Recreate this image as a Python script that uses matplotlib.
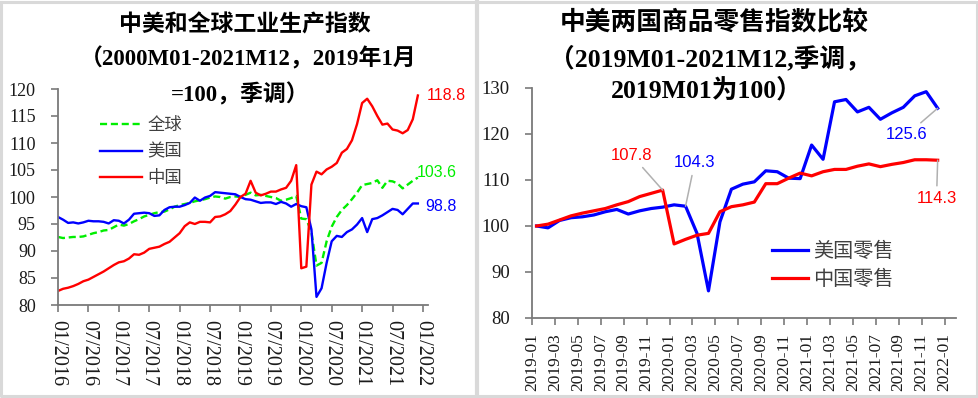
import matplotlib
matplotlib.use('Agg')
import numpy as np
import matplotlib.pyplot as plt
from matplotlib.lines import Line2D
from matplotlib.font_manager import FontProperties

# ---------------- data: left chart (monthly 2016-01 .. 2021-12, 2019M01 = 100) -------------
ip_tick_labels = ['01/2016', '07/2016', '01/2017', '07/2017', '01/2018', '07/2018',
                  '01/2019', '07/2019', '01/2020', '07/2020', '01/2021', '07/2021', '01/2022']
ip_world = [92.6, 92.4, 92.5, 92.6, 92.6, 92.7, 93.0, 93.3, 93.5, 93.8, 93.9, 94.4,
            94.9, 94.7, 95.0, 95.5, 95.9, 96.4, 96.7, 97.0, 97.2, 97.3, 97.7, 98.2,
            98.5, 98.7, 98.9, 99.2, 99.4, 99.6, 99.9, 100.1, 100.0, 99.7, 100.0, 100.1,
            100.0, 100.4, 100.8, 100.3, 100.4, 100.2, 100.0, 99.8, 99.3, 99.5, 99.8, 100.2,
            96.0, 95.9, 93.5, 87.3, 87.8, 91.8, 94.5, 96.3, 97.6, 98.5, 99.6, 100.8,
            102.2, 102.4, 102.6, 103.1, 101.7, 103.0, 102.9, 102.5, 101.6, 102.3, 103.0, 103.6]
ip_us = [96.3, 95.8, 95.2, 95.3, 95.1, 95.3, 95.6, 95.5, 95.5, 95.4, 95.1, 95.7,
         95.6, 95.1, 95.8, 96.9, 97.0, 97.1, 97.0, 96.5, 96.6, 97.6, 98.1, 98.2,
         98.2, 98.5, 98.9, 99.9, 99.3, 99.9, 100.2, 100.9, 100.8, 100.7, 100.6, 100.5,
         100.0, 99.6, 99.5, 99.2, 98.9, 99.0, 99.0, 98.7, 99.1, 98.8, 98.2, 98.7,
         98.3, 98.1, 94.0, 81.5, 83.1, 87.8, 91.8, 92.8, 92.6, 93.5, 94.0, 94.9,
         96.1, 93.5, 95.9, 96.1, 96.6, 97.2, 97.8, 97.6, 96.8, 97.8, 98.8, 98.8]
ip_china = [82.6, 83.0, 83.2, 83.5, 83.9, 84.4, 84.7, 85.2, 85.7, 86.2, 86.8, 87.4,
            87.9, 88.1, 88.6, 89.4, 89.3, 89.7, 90.4, 90.6, 90.8, 91.3, 91.7, 92.5,
            93.3, 94.6, 95.3, 95.0, 95.4, 95.4, 95.3, 96.3, 96.4, 96.8, 97.4, 98.6,
            100.0, 100.6, 103.0, 100.8, 100.3, 100.6, 101.0, 101.0, 101.4, 101.7, 103.0, 105.9,
            86.8, 87.1, 102.3, 104.7, 104.2, 105.1, 105.6, 106.3, 108.2, 108.9, 110.5, 113.5,
            117.4, 118.2, 116.8, 115.0, 113.4, 113.6, 112.5, 112.3, 111.8, 112.4, 114.4, 118.8]
ip_series_names = ['全球', '美国', '中国']

# ---------------- data: right chart (monthly 2019-01 .. 2021-12, 2019M01 = 100) ------------
retail_tick_labels = ['2019-01', '2019-03', '2019-05', '2019-07', '2019-09', '2019-11',
                      '2020-01', '2020-03', '2020-05', '2020-07', '2020-09', '2020-11',
                      '2021-01', '2021-03', '2021-05', '2021-07', '2021-09', '2021-11', '2022-01']
retail_us = [100.0, 99.6, 101.2, 101.8, 102.0, 102.4, 103.1, 103.6, 102.6, 103.3, 103.8, 104.1,
             104.6, 104.3, 98.4, 85.9, 100.9, 108.0, 109.1, 109.6, 112.0, 111.8, 110.4, 110.3,
             117.6, 114.5, 127.0, 127.5, 124.8, 125.8, 123.2, 124.6, 125.8, 128.3, 129.2, 125.6]
retail_china = [100.0, 100.4, 101.3, 102.2, 102.8, 103.3, 103.8, 104.6, 105.3, 106.4, 107.1, 107.8,
                96.1, 97.1, 98.0, 98.4, 103.1, 104.2, 104.6, 105.2, 109.2, 109.2, 110.4, 111.5,
                110.9, 111.8, 112.3, 112.3, 113.0, 113.5, 112.9, 113.4, 113.8, 114.4, 114.4, 114.3]
retail_series_names = ['美国零售', '中国零售']

# ---------------- styling ----------------
RED, BLUE, GREEN = '#FF0000', '#0000FF', '#00EE00'
SPINE = '#7a7a7a'
serif = ['Liberation Serif', 'Noto Sans CJK SC']
cjk = ['Noto Sans CJK SC', 'DejaVu Sans']
plt.rcParams['font.family'] = serif

W, H = 979, 398
fig = plt.figure(figsize=(W / 100, H / 100), dpi=100)
fig.patch.set_facecolor('white')


def fx(px):
    return px / W


def fy(py):
    return 1 - py / H


def style_axes(ax, fs):
    for s in ('top', 'right'):
        ax.spines[s].set_visible(False)
    for s in ('left', 'bottom'):
        ax.spines[s].set_color(SPINE)
        ax.spines[s].set_linewidth(1.3)
    ax.tick_params(direction='out', length=5, width=1.2, color=SPINE, labelsize=fs,
                   labelcolor='#1a1a1a')


# ---------------- left chart ----------------
ax1 = fig.add_axes([fx(58), fy(305), fx(428) - fx(58), fy(89) - fy(305)])
x1 = np.arange(len(ip_china))
l_w, = ax1.plot(x1, ip_world, color=GREEN, lw=1.7, ls=(0, (3, 1.6)))
l_u, = ax1.plot(x1, ip_us, color=BLUE, lw=1.7)
l_c, = ax1.plot(x1, ip_china, color=RED, lw=1.7)
ax1.set_xlim(0, 73)
ax1.set_ylim(80, 120)
ax1.set_yticks(np.arange(80, 121, 5))
ax1.set_xticks(np.arange(0, 73, 6))
ax1.set_xticklabels(ip_tick_labels, rotation=-90, va='top', ha='center')
style_axes(ax1, 13)
ax1.tick_params(axis='y', pad=11, labelsize=13)
ax1.tick_params(axis='x', pad=6, labelsize=14.5)

leg1 = ax1.legend([l_w, l_u, l_c], ip_series_names, loc='upper left',
                  bbox_to_anchor=(0.113, 0.875), frameon=False,
                  prop=FontProperties(family=cjk, size=12.5), handlelength=2.45,
                  handletextpad=0.3, labelspacing=0.5, borderpad=0, borderaxespad=0)
for t in leg1.get_texts():
    t.set_color('#404040')

ann_font = FontProperties(family=['Liberation Sans'], size=11.5)
ax1.annotate(f'{ip_china[-1]:.1f}', xy=(len(ip_china) - 1, ip_china[-1]), xytext=(6.5, 0),
             textcoords='offset points', color=RED, fontproperties=ann_font, va='center')
ax1.annotate(f'{ip_world[-1]:.1f}', xy=(len(ip_world) - 1, ip_world[-1]), xytext=(-1, 3.3),
             textcoords='offset points', color=GREEN, fontproperties=ann_font, va='center')
ax1.annotate(f'{ip_us[-1]:.1f}', xy=(len(ip_us) - 1, ip_us[-1]), xytext=(5, -2),
             textcoords='offset points', color=BLUE, fontproperties=ann_font, va='center')

tf1 = FontProperties(family=serif, size=16.5, weight='bold')
fig.text(fx(245), fy(25), '中美和全球工业生产指数', ha='center', va='center', fontproperties=tf1)
fig.text(fx(248), fy(59), '（2000M01-2021M12，2019年1月', ha='center', va='center', fontproperties=tf1)
fig.text(fx(240), fy(95), '=100，季调）', ha='center', va='center', fontproperties=tf1)

# ---------------- right chart ----------------
ax2 = fig.add_axes([fx(532), fy(318), fx(956) - fx(532), fy(88) - fy(318)])
x2 = np.arange(len(retail_us)) + 0.4
r_u, = ax2.plot(x2, retail_us, color=BLUE, lw=2.3)
r_c, = ax2.plot(x2, retail_china, color=RED, lw=2.3)
ax2.set_xlim(0, 37)
ax2.set_ylim(80, 130)
ax2.set_yticks(np.arange(80, 131, 10))
ax2.set_xticks(np.arange(0, 37, 2))
ax2.set_xticklabels(retail_tick_labels, rotation=90, va='top', ha='center')
style_axes(ax2, 12.5)
ax2.tick_params(axis='y', pad=11, labelsize=13.5)
ax2.tick_params(axis='x', pad=6, labelsize=12.5)

leg2 = ax2.legend([r_u, r_c], retail_series_names, loc='upper left',
                  bbox_to_anchor=(0.566, 0.335), frameon=False,
                  prop=FontProperties(family=cjk, size=14.5), handlelength=1.8,
                  handletextpad=0.25, labelspacing=0.35, borderpad=0, borderaxespad=0)
for t in leg2.get_texts():
    t.set_color('#404040')

lead = dict(arrowstyle='-', color='#b0b0b0', lw=1.1, shrinkA=2, shrinkB=0)
ann_font2 = FontProperties(family=['Liberation Sans'], size=12)
i_cpk = int(np.argmax(retail_china[:13]))
ax2.annotate(f'{retail_china[i_cpk]:.1f}', xy=(x2[i_cpk], retail_china[i_cpk]), xytext=(8.7, 115.4),
             color=RED, fontproperties=ann_font2, ha='center', va='center', arrowprops=lead)
i_uf = 13
ax2.annotate(f'{retail_us[i_uf]:.1f}', xy=(x2[i_uf], retail_us[i_uf]), xytext=(14.2, 113.8),
             color=BLUE, fontproperties=ann_font2, ha='center', va='center', arrowprops=lead)
ax2.annotate(f'{retail_us[-1]:.1f}', xy=(x2[-1], retail_us[-1]), xytext=(32.7, 119.8),
             color=BLUE, fontproperties=ann_font2, ha='center', va='center', arrowprops=lead)
ax2.annotate(f'{retail_china[-1]:.1f}', xy=(x2[-1], retail_china[-1]), xytext=(35.3, 105.9),
             color=RED, fontproperties=ann_font2, ha='center', va='center', arrowprops=lead)

tf2 = FontProperties(family=serif, size=18.5, weight='bold')
fig.text(fx(714), fy(23), '中美两国商品零售指数比较', ha='center', va='center', fontproperties=tf2)
fig.text(fx(710), fy(58), '（2019M01-2021M12,季调，', ha='center', va='center', fontproperties=tf2)
fig.text(fx(707), fy(90), '2019M01为100）', ha='center', va='center', fontproperties=tf2)

# ---------------- panel frames ----------------
frame = '#d9d9d9'
fig.add_artist(Line2D([fx(1.5), fx(977.5), fx(977.5), fx(1.5), fx(1.5)],
                      [fy(1.5), fy(1.5), fy(395.5), fy(395.5), fy(1.5)],
                      transform=fig.transFigure, color=frame, lw=2.2))
fig.add_artist(Line2D([fx(477), fx(477)], [fy(1.5), fy(395.5)],
                      transform=fig.transFigure, color=frame, lw=3))

fig.savefig('out.png', dpi=100, facecolor='white')
